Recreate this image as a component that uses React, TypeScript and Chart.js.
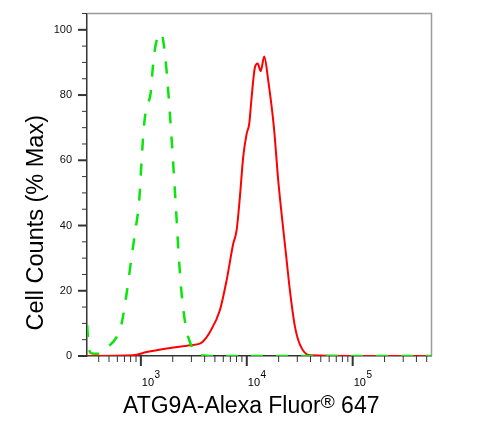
import { useEffect, useRef } from "react";
import { Chart, registerables, Plugin } from "chart.js";

Chart.register(...registerables);

const FONT = "'Liberation Sans', Arial, Helvetica, sans-serif";

// isotype control (green, dashed)
const controlX = [311, 322, 345, 396, 509, 589, 657, 733, 817, 878, 964, 1016, 1067, 1132, 1235, 1307, 1386, 1570, 1649, 1749, 1880, 1992, 2142, 2271, 2425, 2661, 2902, 3358, 4174, 6000, 20000, 100000, 555000];
const controlY = [9.5, 2.5, 0.8, 0.7, 3.3, 5.8, 9.9, 19.1, 30.3, 37.5, 47.7, 59.9, 70.1, 76.3, 80.4, 89.6, 95.7, 99, 95.2, 87.5, 74.2, 62, 45.6, 31.4, 19.1, 8.9, 4.3, 0.7, 0.1, 0, 0, 0, 0];

// ATG9A stained cells (red, solid)
const stainedX = [310, 846, 1132, 1749, 2902, 3606, 3879, 4420, 5572, 6450, 7448, 8015, 8610, 9250, 9970, 10550, 11110, 11940, 12670, 13530, 14620, 15950, 18040, 19820, 21320, 23420, 25570, 28510, 31780, 39500, 100000, 555000];
const stainedY = [0, 0.2, 1.2, 2.3, 3.3, 3.8, 4.5, 7.0, 14, 23.2, 34.4, 38.5, 48.7, 61, 68.1, 71.2, 79.3, 88.5, 89.7, 87.3, 91.8, 84.4, 70.1, 53.8, 43.6, 31.4, 20, 9, 3.5, 0.2, 0, 0];

// axes
const X_MIN = 310;
const X_MAX = 555000;
const xDecades = [100, 1000, 10000, 100000];
const xMajorTicks = [1000, 10000, 100000];
const xTickExponents = ["3", "4", "5"];
const Y_MIN = 0;
const Y_MAX = 105;
const Y_MINOR_STEP = 5;
const Y_LABEL_STEP = 20;

const xTitle = ["ATG9A-Alexa Fluor", "\u00AE", " 647"];
const yTitle = "Cell Counts (% Max)";

const axisDecor: Plugin = {
  id: "axisDecor",
  beforeDatasetsDraw(chart) {
    const { ctx, chartArea: a } = chart;
    const xs = chart.scales.x;
    const ys = chart.scales.y;
    ctx.save();
    // grey frame top / right
    ctx.strokeStyle = "#9c9c9c";
    ctx.lineWidth = 1.5;
    ctx.beginPath();
    ctx.moveTo(a.left, a.top);
    ctx.lineTo(a.right, a.top);
    ctx.lineTo(a.right, a.bottom);
    ctx.stroke();

    ctx.strokeStyle = "#333";
    // y tick marks
    for (let v = Y_MIN; v <= Y_MAX; v += Y_MINOR_STEP) {
      const major = v % Y_LABEL_STEP === 0;
      const py = ys.getPixelForValue(v);
      ctx.lineWidth = major ? 2 : 1;
      ctx.beginPath();
      ctx.moveTo(a.left - (major ? 9 : 5), py);
      ctx.lineTo(a.left, py);
      ctx.stroke();
    }
    // x tick marks
    xDecades.forEach((d) => {
      for (let m = 1; m <= 9; m++) {
        const v = m * d;
        if (v < X_MIN || v > X_MAX) continue;
        const major = m === 1;
        const px = xs.getPixelForValue(v);
        ctx.lineWidth = major ? 2 : 1;
        ctx.beginPath();
        ctx.moveTo(px, a.bottom);
        ctx.lineTo(px, a.bottom + (major ? 10 : 6));
        ctx.stroke();
      }
    });
    ctx.restore();
  },
  afterDraw(chart) {
    const { ctx, chartArea: a } = chart;
    const xs = chart.scales.x;
    ctx.save();
    ctx.fillStyle = "#000";
    ctx.textBaseline = "alphabetic";
    ctx.textAlign = "left";

    // x tick labels 10^n
    xMajorTicks.forEach((v, i) => {
      const px = xs.getPixelForValue(v);
      ctx.font = `11px ${FONT}`;
      ctx.fillText("10", px + 1, a.bottom + 29.5);
      const w = ctx.measureText("10").width;
      ctx.font = `10px ${FONT}`;
      ctx.fillText(xTickExponents[i], px + 1.5 + w, a.bottom + 21.5);
    });

    // x title with superscript ®
    const base = `23px ${FONT}`;
    const sup = `19px ${FONT}`;
    ctx.font = base;
    const w1 = ctx.measureText(xTitle[0]).width;
    const w3 = ctx.measureText(xTitle[2]).width;
    ctx.font = sup;
    const w2 = ctx.measureText(xTitle[1]).width;
    const cx = (a.left + a.right) / 2 - 8;
    const by = a.bottom + 57;
    let x0 = cx - (w1 + w2 + w3) / 2;
    ctx.font = base;
    ctx.fillText(xTitle[0], x0, by);
    x0 += w1;
    ctx.font = sup;
    ctx.fillText(xTitle[1], x0, by - 5);
    x0 += w2;
    ctx.font = base;
    ctx.fillText(xTitle[2], x0, by);

    // y title
    ctx.translate(a.left - 44.5, (a.top + a.bottom) / 2 + 38);
    ctx.rotate(-Math.PI / 2);
    ctx.textAlign = "center";
    ctx.font = `23.5px ${FONT}`;
    ctx.fillText(yTitle, 0, 0);
    ctx.restore();
  },
};

export default function App() {
  const canvasRef = useRef<HTMLCanvasElement>(null);
  const chartRef = useRef<Chart | null>(null);

  useEffect(() => {
    if (!canvasRef.current) return;
    if (chartRef.current) chartRef.current.destroy();

    chartRef.current = new Chart(canvasRef.current, {
      type: "line",
      data: {
        datasets: [
          {
            label: "Isotype control",
            data: controlX.map((x, i) => ({ x, y: controlY[i] })),
            borderColor: "#0ae60a",
            borderWidth: 2.5,
            borderDash: [12, 13],
            pointRadius: 0,
            cubicInterpolationMode: "monotone",
            fill: false,
          },
          {
            label: "ATG9A",
            data: stainedX.map((x, i) => ({ x, y: stainedY[i] })),
            borderColor: "#ff0000",
            borderWidth: 2,
            pointRadius: 0,
            cubicInterpolationMode: "monotone",
            fill: false,
          },
        ],
      },
      options: {
        animation: false,
        responsive: true,
        maintainAspectRatio: false,
        layout: { padding: { top: 13.5, right: 67.5, bottom: 0, left: 0 } },
        plugins: {
          legend: { display: false },
          tooltip: { enabled: false },
        },
        scales: {
          x: {
            type: "logarithmic",
            min: X_MIN,
            max: X_MAX,
            grid: { display: false, drawTicks: false },
            border: { display: true, color: "#333", width: 1.5 },
            ticks: { display: false },
            afterFit: (s: any) => {
              s.height = 69;
              s.paddingLeft = 0;
              s.paddingRight = 0;
            },
          },
          y: {
            type: "linear",
            min: Y_MIN,
            max: Y_MAX,
            grid: { display: false, drawTicks: false },
            border: { display: true, color: "#333", width: 1.5 },
            ticks: {
              stepSize: Y_MINOR_STEP,
              autoSkip: false,
              padding: 15,
              color: "#111",
              font: { family: FONT, size: 11 },
              callback: (v: any) => (Number(v) % Y_LABEL_STEP === 0 ? String(v) : ""),
            },
            afterFit: (s: any) => {
              s.width = 87;
              s.paddingTop = 0;
              s.paddingBottom = 0;
            },
          },
        },
      },
      plugins: [axisDecor],
    });

    return () => {
      if (chartRef.current) {
        chartRef.current.destroy();
        chartRef.current = null;
      }
    };
  }, []);

  return (
    <div style={{ position: "fixed", left: 0, top: 0, width: 499, height: 425, background: "#fff" }}>
      <canvas ref={canvasRef} />
    </div>
  );
}
